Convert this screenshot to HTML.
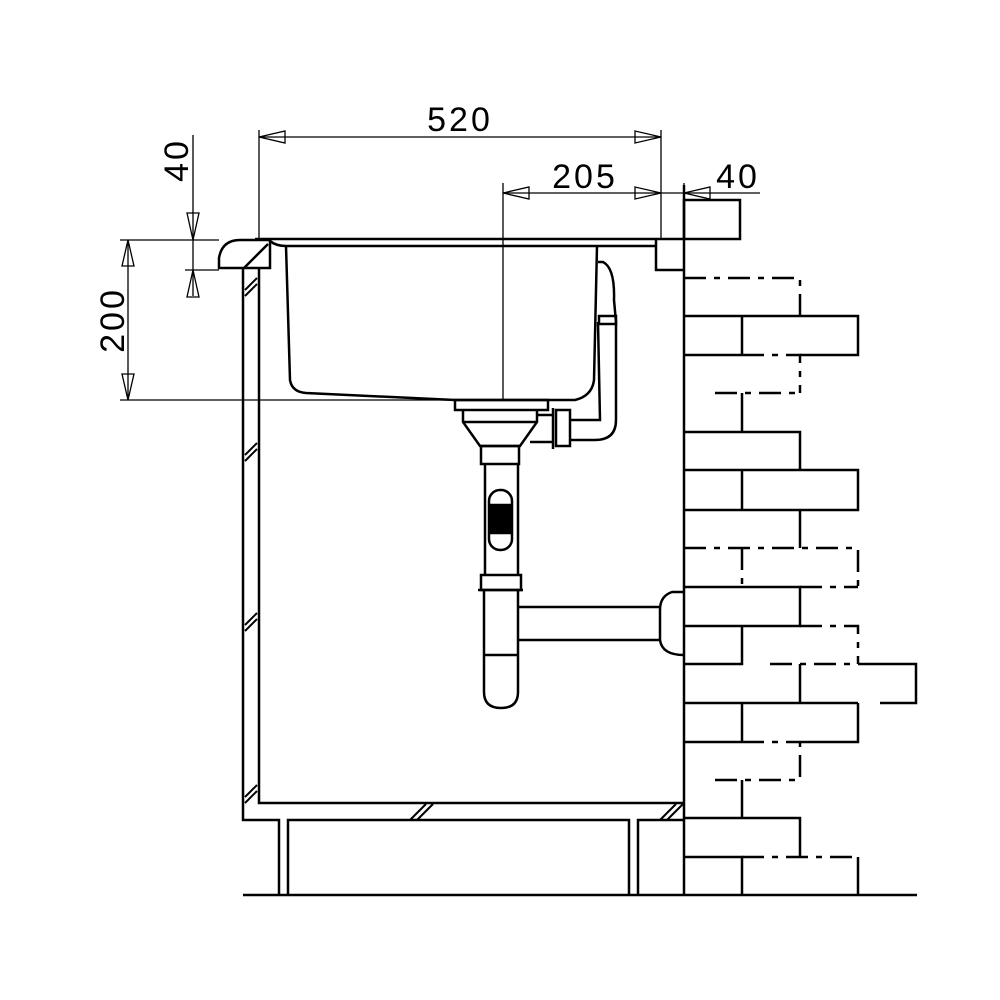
<!DOCTYPE html>
<html><head><style>html,body{margin:0;padding:0;background:#fff}svg{display:block}</style></head>
<body>
<svg width="1000" height="1000" viewBox="0 0 1000 1000" xmlns="http://www.w3.org/2000/svg" font-family="Liberation Sans, sans-serif">
<g fill="none" stroke="#000" stroke-width="2.5" stroke-linejoin="miter">
<!-- dimension lines (thin) -->
<g stroke-width="1.3">
<line x1="259" y1="130" x2="259" y2="240"/>
<line x1="661" y1="130" x2="661" y2="240"/>
<line x1="259" y1="137" x2="661" y2="137"/>
<polygon points="259,137 285,131 285,143"/>
<polygon points="661,137 635,131 635,143"/>
<line x1="503" y1="183" x2="503" y2="400"/>
<line x1="503" y1="193" x2="760" y2="193"/>
<polygon points="503,193 529,187 529,199"/>
<polygon points="661,193 635,187 635,199"/>
<polygon points="684,193 710,187 710,199"/>
<line x1="684" y1="183" x2="684" y2="200"/>
<line x1="193" y1="135" x2="193" y2="296"/>
<polygon points="193,240 187,213 199,213"/>
<polygon points="193,270 187,297 199,297"/>
<line x1="128" y1="240" x2="128" y2="400"/>
<polygon points="128,240 122,266 134,266"/>
<polygon points="128,400 122,374 134,374"/>
<line x1="120" y1="240" x2="219" y2="240"/>
<line x1="185" y1="270" x2="219" y2="270"/>
<line x1="120" y1="400" x2="455" y2="400"/>
</g>
<!-- countertop / rim -->
<line x1="255" y1="239" x2="684" y2="239"/>
<path d="M270,241 Q276,246 286,246 L655,246"/>
<path d="M219,268 L219,258 Q222,240 240,240 L270,240 L270,268 Z"/>
<line x1="244" y1="268" x2="268" y2="244"/>
<path d="M656,240 L656,270 L684,270"/>
<rect x="684" y="200" width="56" height="39"/>
<!-- cabinet -->
<path d="M243,268 L243,820 L279,820 L279,895 M288,895 L288,820 L629,820 L629,895 M638,895 L638,820 L684,820"/>
<path d="M259,268 L259,803 L684,803"/>
<line x1="243" y1="895" x2="917" y2="895"/>
<g stroke-width="2">
<line x1="245" y1="290" x2="257" y2="278"/><line x1="245" y1="296" x2="257" y2="284"/>
<line x1="245" y1="455" x2="257" y2="443"/><line x1="245" y1="461" x2="257" y2="449"/>
<line x1="245" y1="625" x2="257" y2="613"/><line x1="245" y1="631" x2="257" y2="619"/>
<line x1="245" y1="797" x2="257" y2="785"/><line x1="245" y1="803" x2="257" y2="791"/>
<line x1="410" y1="820" x2="426" y2="804"/><line x1="417" y1="820" x2="433" y2="804"/>
<line x1="660" y1="820" x2="676" y2="804"/><line x1="667" y1="820" x2="683" y2="804"/>
</g>
<!-- bowl -->
<path d="M286,246 L290,380 Q292,392 306,393 L455,400 L575,400 Q592,396 594,380 L597,246"/>
<!-- overflow -->
<path d="M598,262 L603,262 Q615,268 614,300 L616,322 L616,420 Q616,440 595,440 L570,440"/>
<path d="M598,322 L600,420 L570,420"/>
<rect x="599" y="316" width="17" height="8"/>
<rect x="556" y="410" width="14" height="36"/>
<line x1="553" y1="408" x2="553" y2="449"/>
<!-- waste -->
<rect x="455" y="400" width="93" height="10"/>
<path d="M463,410 L463,422 L480,446 L520,446 L537,422 L537,410"/>
<line x1="463" y1="422" x2="537" y2="422"/>
<line x1="537" y1="415" x2="553" y2="415"/><line x1="530" y1="442" x2="553" y2="442"/>
<rect x="481" y="446" width="38" height="18"/>
<path d="M485,464 L485,575 M518,464 L518,575"/>
<rect x="489" y="490" width="23" height="60" rx="11"/>
<rect x="491" y="505" width="19" height="28" fill="#000"/>
<rect x="481" y="575" width="40" height="15"/>
<line x1="478" y1="590" x2="523" y2="590"/>
<path d="M484,590 L484,692 Q484,708 501,708 Q518,708 518,692 L518,590"/>
<line x1="484" y1="655" x2="518" y2="655"/>
<path d="M518,607 L660,607 M518,640 L660,640"/>
<path d="M684,592 L672,592 Q660,596 660,610 L660,640 Q662,655 684,655"/>
<!-- wall -->
<line x1="684" y1="185" x2="684" y2="895"/>
<g>
<path d="M684,316 H858 V355 H800 M742,316 V355 M684,355 H742"/>
<path d="M684,432 H800 V470 M742,393 V432"/>
<path d="M684,470 H858 V510 H684 M742,470 V510 M800,510 V548"/>
<path d="M684,587 H800 V626 H684 M800,587 V626"/>
<path d="M684,664 H742 V626 M800,664 V703 M684,703 H858 M858,664 H916 V703 H880"/>
<path d="M742,703 V742 M858,703 V742 H800 M684,742 H742"/>
<path d="M742,780 V818 M684,818 H800 V857 M684,857 H742 V895 M858,857 V895"/>
</g>
<g stroke-dasharray="22,8,6,8">
<path d="M684,278 H800 V316"/>
<path d="M742,355 H800 V393 M715,393 H800"/>
<path d="M684,548 H858 V587 M742,548 V587 M800,587 H858"/>
<path d="M800,626 H858 V664 M770,664 H858"/>
<path d="M742,742 H800 M715,780 H800 V742"/>
<path d="M742,857 H858"/>
</g>
</g>
<g fill="#000" font-size="34" text-anchor="middle">
<text x="460" y="131" letter-spacing="3">520</text>
<text x="585" y="188" letter-spacing="3">205</text>
<text x="738" y="188" letter-spacing="3">40</text>
<text transform="translate(188,160) rotate(-90)" letter-spacing="3">40</text>
<text transform="translate(124,320) rotate(-90)" letter-spacing="3">200</text>
</g>
</svg>
</body></html>
